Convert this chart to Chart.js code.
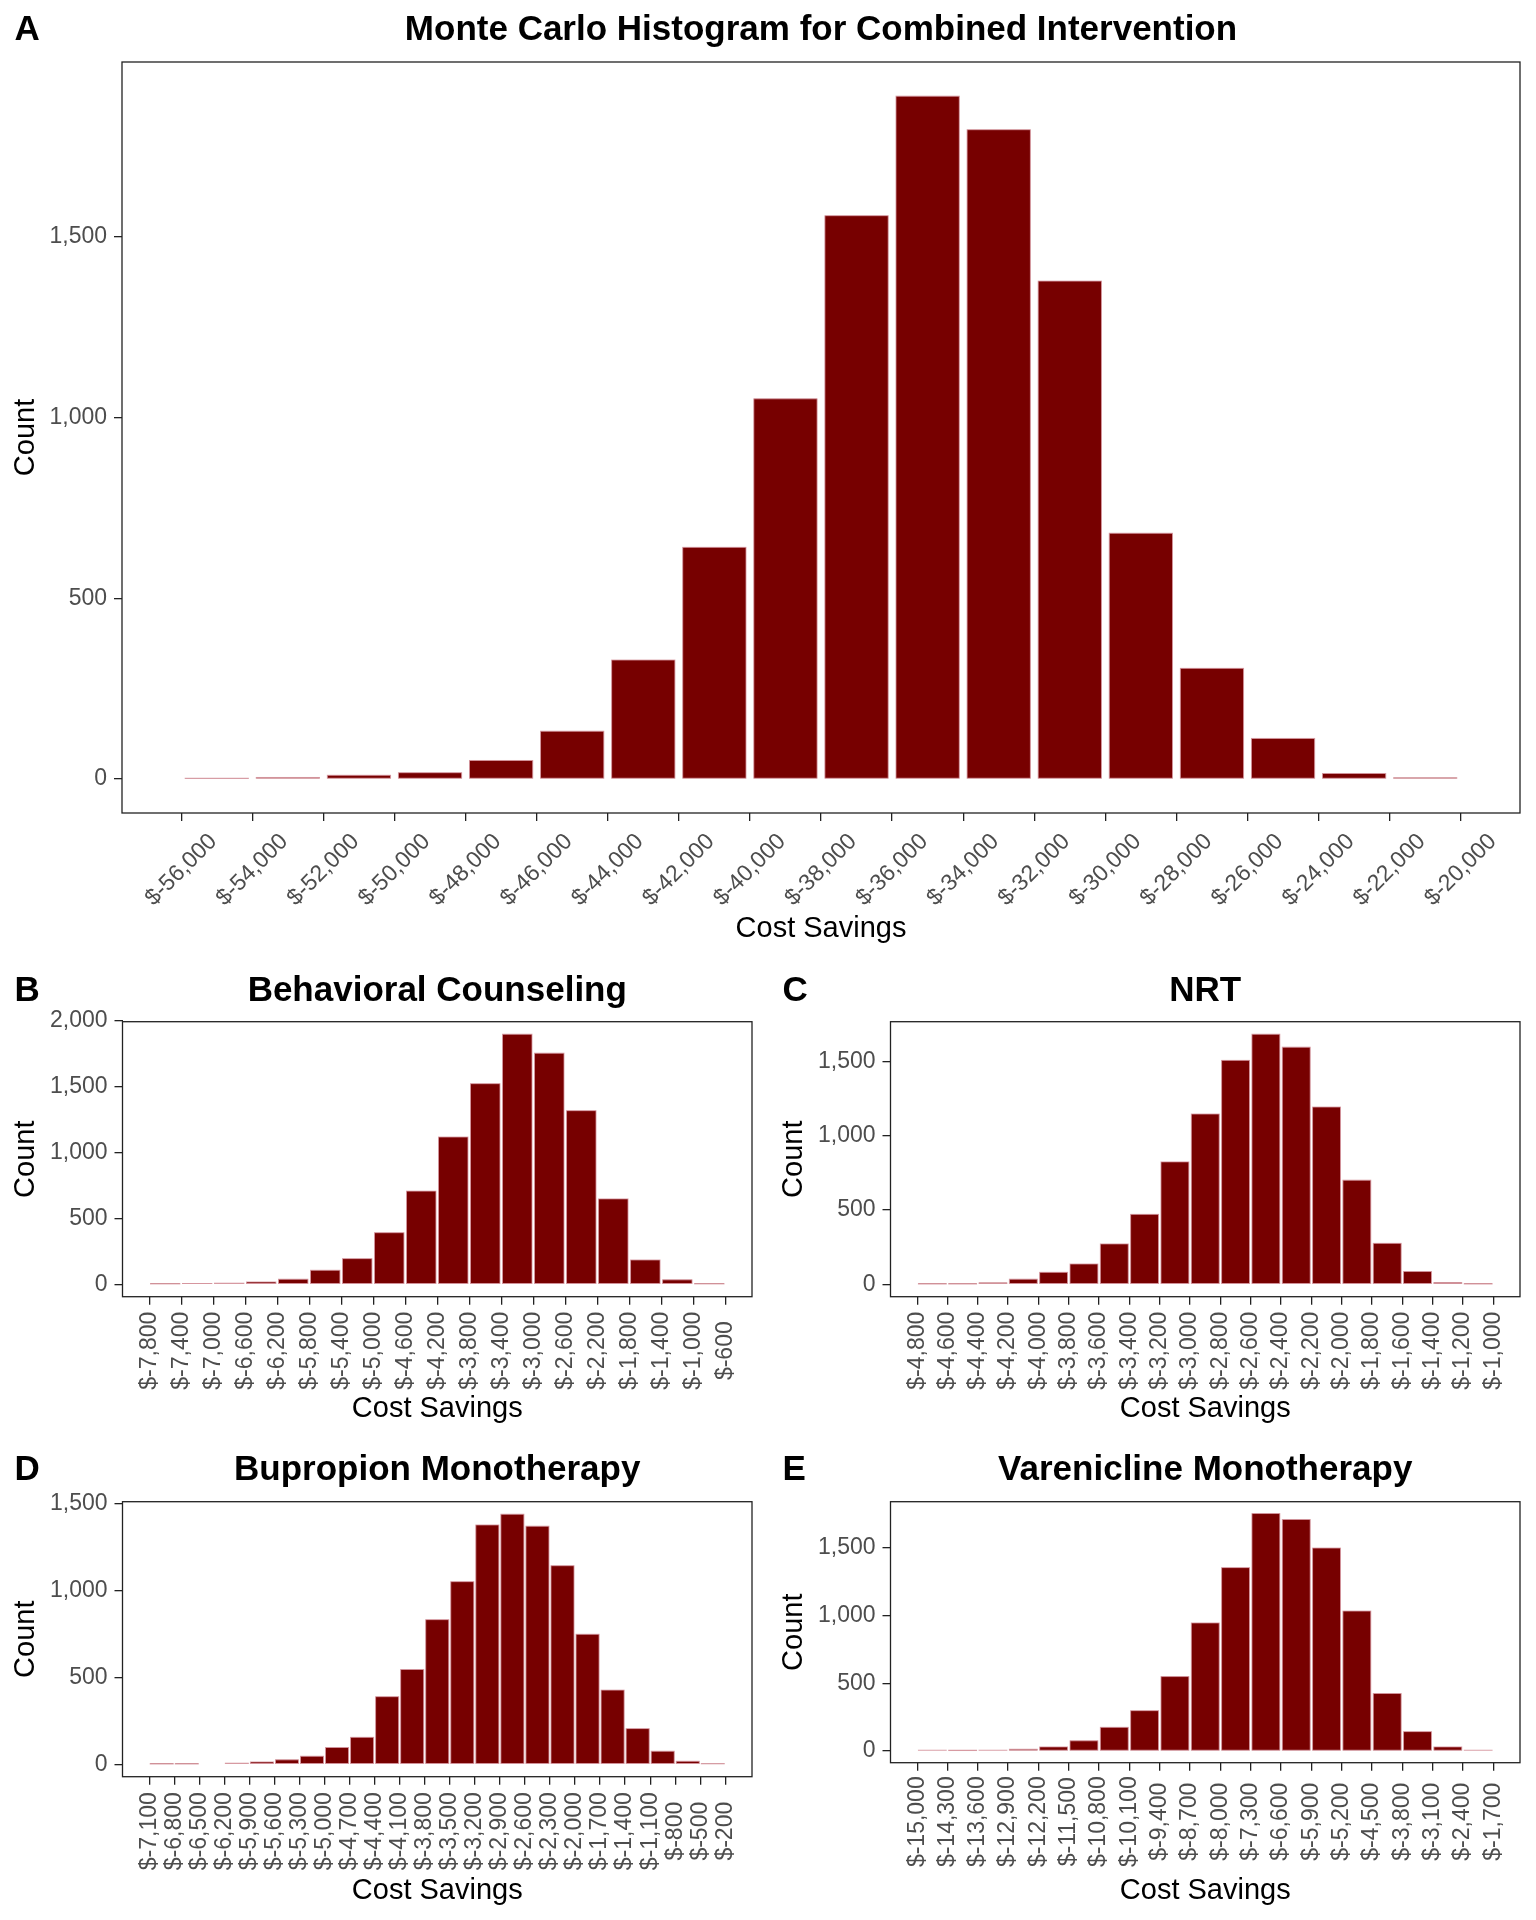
<!DOCTYPE html>
<html>
<head>
<meta charset="utf-8">
<title>Monte Carlo Histograms</title>
<script src="https://cdn.jsdelivr.net/npm/chart.js@4.4.1/dist/chart.umd.min.js"></script>
<style>
  html, body { margin: 0; background: #fff; }
  #page { position: relative; width: 1536px; height: 1920px; background: #fff; }
  #page canvas { position: absolute; }
</style>
</head>
<body>
<div id="page"></div>
<script>
// bin edges double as the x tick labels; one count per bin
const combinedEdges = [-56000, -54000, -52000, -50000, -48000, -46000, -44000, -42000, -40000, -38000,
  -36000, -34000, -32000, -30000, -28000, -26000, -24000, -22000, -20000];
const combinedCounts = [1, 4, 10, 17, 51, 132, 329, 641, 1052, 1559, 1890, 1797, 1378, 680, 306, 112, 15, 3];
const combinedTicks = [0, 500, 1000, 1500];

const counselingEdges = [-7800, -7400, -7000, -6600, -6200, -5800, -5400, -5000, -4600, -4200,
  -3800, -3400, -3000, -2600, -2200, -1800, -1400, -1000, -600];
const counselingCounts = [2, 5, 8, 17, 38, 106, 194, 391, 707, 1118, 1523, 1899, 1755, 1318, 648, 184, 33, 2];
const counselingTicks = [0, 500, 1000, 1500, 2000];

const nrtEdges = [-4800, -4600, -4400, -4200, -4000, -3800, -3600, -3400, -3200, -3000,
  -2800, -2600, -2400, -2200, -2000, -1800, -1600, -1400, -1200, -1000];
const nrtCounts = [1, 1, 9, 34, 80, 136, 271, 470, 823, 1145, 1506, 1682, 1595, 1192, 700, 275, 85, 11, 1];
const nrtTicks = [0, 500, 1000, 1500];

const bupropionEdges = [-7100, -6800, -6500, -6200, -5900, -5600, -5300, -5000, -4700, -4400, -4100, -3800,
  -3500, -3200, -2900, -2600, -2300, -2000, -1700, -1400, -1100, -800, -500, -200];
const bupropionCounts = [1, 1, 0, 6, 13, 25, 46, 96, 155, 389, 546, 833, 1052, 1379, 1441, 1372, 1144, 749, 427, 205, 75, 17, 2];
const bupropionTicks = [0, 500, 1000, 1500];

const vareniclineEdges = [-15000, -14300, -13600, -12900, -12200, -11500, -10800, -10100, -9400, -8700,
  -8000, -7300, -6600, -5900, -5200, -4500, -3800, -3100, -2400, -1700];
const vareniclineCounts = [4, 2, 4, 12, 29, 74, 174, 297, 549, 946, 1355, 1755, 1711, 1500, 1034, 424, 142, 29, 4];
const vareniclineTicks = [0, 500, 1000, 1500];

const BAR = '#770000';
const BAR_EDGE = 'rgba(214, 150, 158, 0.9)';
const AXIS = '#222';
const TICK_TEXT = '#4d4d4d';
const TITLE_SIZE = 35;
const AXIS_TITLE_SIZE = 29;
const TICK_SIZE = 23;
const XPAD = 0.0463;

Chart.defaults.font.family = '"Liberation Sans", Arial, Helvetica, sans-serif';

const money = v => '$' + v.toLocaleString('en-US');

// thin light outline on each non-empty bin, like geom_histogram's colour
const binOutline = {
  id: 'binOutline',
  afterDatasetsDraw(chart) {
    const { ctx } = chart;
    const meta = chart.getDatasetMeta(0);
    const counts = chart.data.datasets[0].data;
    ctx.save();
    ctx.strokeStyle = BAR_EDGE;
    ctx.lineWidth = 0.9;
    meta.data.forEach((bar, i) => {
      if (!counts[i].y) return;
      const p = bar.getProps(['x', 'y', 'base', 'width'], true);
      ctx.strokeRect(p.x - p.width / 2, p.y, p.width, p.base - p.y);
    });
    ctx.restore();
  }
};

// frame, centred x labels (ggplot style) and the panel letter
const panelDecor = {
  id: 'panelDecor',
  afterDraw(chart, args, opts) {
    const { ctx, chartArea: a } = chart;
    const x = chart.scales.x;
    ctx.save();
    ctx.strokeStyle = AXIS;
    ctx.lineWidth = 1.3;
    ctx.strokeRect(a.left, a.top, a.right - a.left, a.bottom - a.top);

    ctx.fillStyle = TICK_TEXT;
    ctx.font = TICK_SIZE + 'px ' + Chart.defaults.font.family;
    ctx.textAlign = 'center';
    ctx.textBaseline = 'middle';
    const rot = opts.angle * Math.PI / 180;
    x.ticks.forEach(t => {
      ctx.save();
      ctx.translate(x.getPixelForValue(t.value), a.bottom + opts.labelDrop);
      ctx.rotate(-rot);
      ctx.fillText(money(t.value), 0, 0);
      ctx.restore();
    });

    ctx.fillStyle = '#000';
    ctx.font = 'bold ' + TITLE_SIZE + 'px ' + Chart.defaults.font.family;
    ctx.textAlign = 'left';
    ctx.textBaseline = 'alphabetic';
    ctx.fillText(opts.letter, 14.5, opts.letterY);
    ctx.restore();
  }
};

const panels = [
  { letter: 'A', title: 'Monte Carlo Histogram for Combined Intervention',
    edges: combinedEdges, counts: combinedCounts, yTicks: combinedTicks,
    box: { left: 0, top: 0, width: 1536, height: 950 },
    area: { left: 122, right: 1520, top: 62, bottom: 813 },
    titleCenter: 30, letterBase: 40, angle: 45, labelDrop: 57, xTitleDrop: 116, barPct: 0.89 },
  { letter: 'B', title: 'Behavioral Counseling',
    edges: counselingEdges, counts: counselingCounts, yTicks: counselingTicks,
    box: { left: 0, top: 950, width: 768, height: 480 },
    area: { left: 122.5, right: 752, top: 1021.7, bottom: 1296.7 },
    titleCenter: 991, letterBase: 1000.5, angle: 90, labelDrop: 54, xTitleDrop: 112.4, barPct: 0.92 },
  { letter: 'C', title: 'NRT',
    edges: nrtEdges, counts: nrtCounts, yTicks: nrtTicks,
    box: { left: 768, top: 950, width: 768, height: 480 },
    area: { left: 890.5, right: 1520, top: 1021.7, bottom: 1296.7 },
    titleCenter: 991, letterBase: 1000.5, angle: 90, labelDrop: 54, xTitleDrop: 112.4, barPct: 0.92 },
  { letter: 'D', title: 'Bupropion Monotherapy',
    edges: bupropionEdges, counts: bupropionCounts, yTicks: bupropionTicks,
    box: { left: 0, top: 1430, width: 768, height: 490 },
    area: { left: 122.5, right: 752, top: 1501.7, bottom: 1776.7 },
    titleCenter: 1470, letterBase: 1480, angle: 90, labelDrop: 54.5, xTitleDrop: 113.8, barPct: 0.92 },
  { letter: 'E', title: 'Varenicline Monotherapy',
    edges: vareniclineEdges, counts: vareniclineCounts, yTicks: vareniclineTicks,
    box: { left: 768, top: 1430, width: 768, height: 490 },
    area: { left: 890.5, right: 1520, top: 1501.7, bottom: 1762.7 },
    titleCenter: 1470, letterBase: 1480, angle: 90, labelDrop: 59, xTitleDrop: 127.8, barPct: 0.92 }
];

function makePanel(p) {
  const canvas = document.createElement('canvas');
  canvas.width = p.box.width;
  canvas.height = p.box.height;
  canvas.style.left = p.box.left + 'px';
  canvas.style.top = p.box.top + 'px';
  document.getElementById('page').appendChild(canvas);

  const left = p.area.left - p.box.left;
  const right = p.area.right - p.box.left;
  const top = p.area.top - p.box.top;
  const bottom = p.area.bottom - p.box.top;
  const titlePadTop = p.titleCenter - p.box.top - TITLE_SIZE * 0.6;
  const titlePadBottom = top - titlePadTop - TITLE_SIZE * 1.2;
  const xAxisHeight = p.box.height - bottom;
  const xTitlePad = xAxisHeight - p.xTitleDrop - AXIS_TITLE_SIZE * 0.6;

  const bins = p.counts.map((c, i) => ({ x: (p.edges[i] + p.edges[i + 1]) / 2, y: c }));
  const span = p.edges[p.edges.length - 1] - p.edges[0];
  const peak = Math.max(...p.counts);

  const tickGrid = { drawOnChartArea: false, offset: false, color: AXIS, lineWidth: 1.3, tickLength: 8 };

  new Chart(canvas, {
    type: 'bar',
    data: {
      datasets: [{
        data: bins,
        backgroundColor: BAR,
        borderWidth: 0,
        barPercentage: p.barPct,
        categoryPercentage: 1
      }]
    },
    options: {
      responsive: false,
      animation: false,
      layout: { padding: { left: 0, top: 0, right: p.box.width - right, bottom: 0 } },
      plugins: {
        legend: { display: false },
        tooltip: { enabled: false },
        title: {
          display: true,
          text: p.title,
          fullSize: false,
          color: '#000',
          font: { size: TITLE_SIZE, weight: 'bold' },
          padding: { top: titlePadTop, bottom: titlePadBottom }
        },
        panelDecor: { letter: p.letter, letterY: p.letterBase - p.box.top, angle: p.angle, labelDrop: p.labelDrop }
      },
      scales: {
        x: {
          type: 'linear',
          offset: false,
          min: p.edges[0] - XPAD * span,
          max: p.edges[p.edges.length - 1] + XPAD * span,
          afterBuildTicks: ax => { ax.ticks = p.edges.map(v => ({ value: v })); },
          afterFit: ax => { ax.height = xAxisHeight; },
          ticks: { display: false },
          grid: tickGrid,
          border: { display: false },
          title: {
            display: true,
            text: 'Cost Savings',
            color: '#000',
            font: { size: AXIS_TITLE_SIZE },
            padding: { top: 0, bottom: xTitlePad }
          }
        },
        y: {
          min: -0.05 * peak,
          max: 1.05 * peak,
          afterBuildTicks: ax => { ax.ticks = p.yTicks.map(v => ({ value: v })); },
          afterFit: ax => { ax.width = left; },
          ticks: {
            color: TICK_TEXT,
            font: { size: TICK_SIZE },
            padding: 7,
            callback: v => v.toLocaleString('en-US')
          },
          grid: tickGrid,
          border: { display: false },
          title: {
            display: true,
            text: 'Count',
            color: '#000',
            font: { size: AXIS_TITLE_SIZE },
            padding: { top: 9, bottom: 0 }
          }
        }
      }
    },
    plugins: [binOutline, panelDecor]
  });
}

panels.forEach(makePanel);
</script>
</body>
</html>
